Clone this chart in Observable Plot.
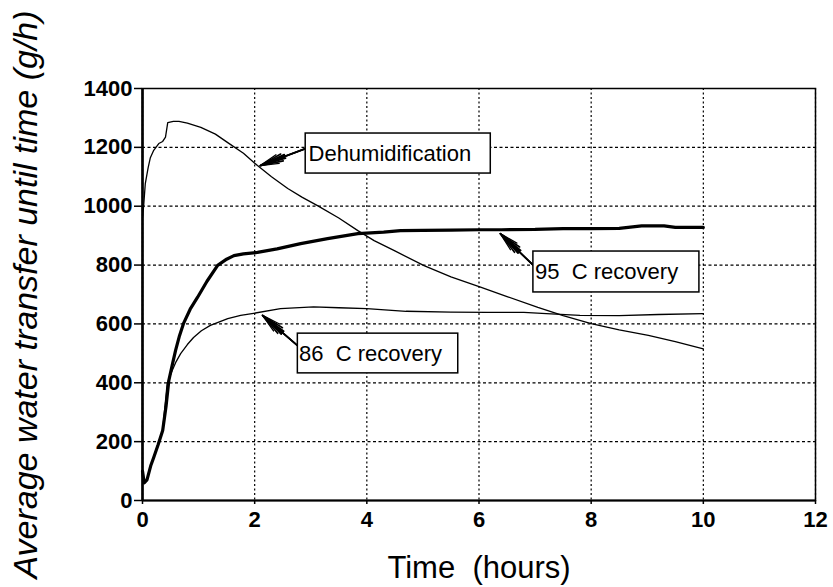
<!DOCTYPE html>
<html>
<head>
<meta charset="utf-8">
<script src="https://cdn.jsdelivr.net/npm/d3@7"></script>
<script src="https://cdn.jsdelivr.net/npm/@observablehq/plot@0.6"></script>
<style>
  html, body { margin: 0; padding: 0; background: #fff; }
  svg text { white-space: pre; }
</style>
</head>
<body>
<div id="chart"></div>
<script>
// ---- Data ----
const xTicks = [0, 2, 4, 6, 8, 10, 12];
const yTicks = [0, 200, 400, 600, 800, 1000, 1200, 1400];

const dehumTime   = [0, 0.02, 0.05, 0.1, 0.14, 0.2, 0.29, 0.36, 0.41, 0.45, 0.55, 0.65, 0.8, 1.04, 1.3, 1.52, 1.8, 2.05, 2.3, 2.59, 2.85, 3.12, 3.5, 3.84, 4.13, 4.5, 5.02, 5.5, 6.04, 6.5, 7.05, 7.5, 8.0, 8.5, 9.02, 9.5, 10.0];
const dehumValues = [960, 1000, 1077, 1130, 1165, 1190, 1213, 1220, 1235, 1284, 1288, 1288, 1282, 1268, 1245, 1216, 1180, 1138, 1100, 1060, 1030, 1002, 960, 917, 883, 848, 798, 760, 724, 693, 656, 628, 601, 580, 561, 540, 515];

const rec95Time   = [0, 0.03, 0.08, 0.15, 0.2, 0.28, 0.36, 0.42, 0.47, 0.53, 0.59, 0.66, 0.73, 0.85, 0.98, 1.15, 1.34, 1.5, 1.63, 1.8, 2.05, 2.4, 2.82, 3.3, 3.84, 4.3, 4.6, 5.0, 5.5, 6.0, 6.4, 7.0, 7.5, 8.0, 8.5, 8.9, 9.3, 9.5, 10.0];
const rec95Values = [100, 60, 70, 120, 146, 190, 238, 320, 408, 460, 510, 560, 601, 650, 690, 745, 799, 820, 832, 838, 843, 855, 873, 890, 907, 912, 917, 918, 919, 920, 920, 921, 924, 924, 925, 933, 933, 928, 928];

const rec86Time   = [0, 0.03, 0.08, 0.15, 0.2, 0.28, 0.36, 0.44, 0.53, 0.6, 0.68, 0.8, 0.91, 1.05, 1.21, 1.52, 1.75, 1.98, 2.46, 3.05, 3.5, 4.0, 4.7, 5.5, 6.15, 6.8, 7.2, 7.8, 8.5, 9.2, 10.0];
const rec86Values = [100, 60, 72, 122, 148, 192, 240, 398, 442, 472, 499, 530, 554, 577, 595, 618, 629, 636, 652, 658, 655, 652, 643, 640, 639, 639, 635, 629, 628, 632, 635];

// Annotation boxes and arrows (data coordinates)
const noteLabels = ["Dehumidification", "95  C recovery", "86  C recovery"];
const noteBoxX1  = [2.91, 6.97, 2.77];
const noteBoxX2  = [6.21, 9.93, 5.63];
const noteBoxY1  = [1111, 707, 432];
const noteBoxY2  = [1247, 846, 567];
const noteTextX  = [2.96, 7.0, 2.79];
const noteTailX  = [2.91, 6.97, 2.76];
const noteTailY  = [1196, 799, 527];
const noteTipX   = [2.10, 6.38, 2.14];
const noteTipY   = [1138, 907, 629];

// ---- Build tables ----
const toRows = (t, v, s) => t.map((x, i) => ({time: x, value: v[i], series: s}));
const dehum = toRows(dehumTime, dehumValues, "Dehumidification");
const rec95 = toRows(rec95Time, rec95Values, "95 C recovery");
const rec86 = toRows(rec86Time, rec86Values, "86 C recovery");
// the arrow shaft is continued under the (white) box so the head can be long
const ext = 1.8;
const notes = noteLabels.map((label, i) => ({
  label, x1: noteBoxX1[i], x2: noteBoxX2[i], y1: noteBoxY1[i], y2: noteBoxY2[i],
  tx: noteTextX[i], ty: (noteBoxY1[i] + noteBoxY2[i]) / 2,
  ax1: noteTipX[i] + (noteTailX[i] - noteTipX[i]) * ext,
  ay1: noteTipY[i] + (noteTailY[i] - noteTipY[i]) * ext,
  ax2: noteTipX[i], ay2: noteTipY[i]
}));

const font = "'Liberation Sans', Arial, Helvetica, sans-serif";

const arrowLayer = (angle, sw) => Plot.arrow(notes, {
  x1: "ax1", y1: "ay1", x2: "ax2", y2: "ay2",
  stroke: "black", strokeWidth: sw, headLength: 22, headAngle: angle, insetStart: 0, insetEnd: 0
});

const chart = Plot.plot({
  width: 833,
  height: 587,
  marginLeft: 142,
  marginRight: 18,
  marginTop: 88,
  marginBottom: 87,
  style: {fontFamily: font, fontSize: "22px", background: "white", color: "black", overflow: "visible"},
  x: {domain: [0, 12]},
  y: {domain: [0, 1400]},
  marks: [
    Plot.gridX(xTicks, {stroke: "black", strokeOpacity: 1, strokeWidth: 1.2, strokeDasharray: "2,2.5"}),
    Plot.gridY(yTicks, {stroke: "black", strokeOpacity: 1, strokeWidth: 1.2, strokeDasharray: "3,2.5"}),
    Plot.line(dehum, {x: "time", y: "value", stroke: "black", strokeWidth: 1.3}),
    Plot.line(rec86, {x: "time", y: "value", stroke: "black", strokeWidth: 1.3}),
    Plot.line(rec95, {x: "time", y: "value", stroke: "black", strokeWidth: 3.2}),
    arrowLayer(28, 1.3),
    arrowLayer(18, 1.6),
    arrowLayer(8, 1.8),
    Plot.rect(notes, {x1: "x1", x2: "x2", y1: "y1", y2: "y2", fill: "white", stroke: "black", strokeWidth: 1.5}),
    Plot.text(notes, {x: "tx", y: "ty", text: "label", textAnchor: "start", fontSize: 22, fill: "black"}),
    Plot.frame({stroke: "black", strokeWidth: 1.5}),
    Plot.ruleX([0], {stroke: "black", strokeWidth: 2.6}),
    Plot.ruleY([0], {stroke: "black", strokeWidth: 2}),
    Plot.axisX({ticks: xTicks, tickSize: 4, tickPadding: 7, fontSize: 22, fontWeight: "bold", label: null, tickFormat: d3.format("d"), strokeWidth: 1.5}),
    Plot.axisY({ticks: yTicks, tickSize: 8, tickPadding: 2, fontSize: 22, fontWeight: "bold", label: null, tickFormat: d3.format("d"), strokeWidth: 1.5}),
    Plot.text(["Time  (hours)"], {frameAnchor: "bottom", dy: 77, lineAnchor: "bottom", textAnchor: "middle", fontSize: 31, fill: "black"}),
    Plot.text(["Average water transfer until time (g/h)"], {frameAnchor: "left", dx: -106, rotate: -90, lineAnchor: "bottom", textAnchor: "middle", fontSize: 34, fontStyle: "italic", fill: "black"})
  ]
});

document.getElementById("chart").appendChild(chart);
</script>
</body>
</html>
